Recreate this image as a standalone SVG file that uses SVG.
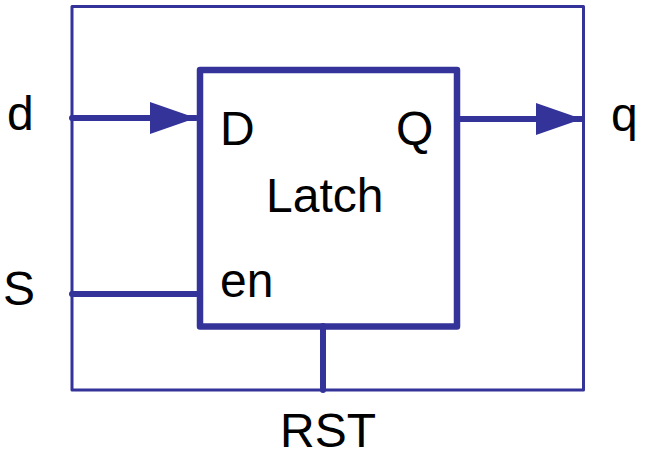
<svg xmlns="http://www.w3.org/2000/svg" width="647" height="470" viewBox="0 0 647 470">
<style>
.w{stroke:#333399;fill:none;stroke-linecap:round;stroke-linejoin:round}
.t{font-family:"Liberation Sans",Arial,sans-serif;font-size:48px;fill:#000}
</style>
<defs>
<marker id="ah" markerUnits="userSpaceOnUse" markerWidth="48" markerHeight="34" refX="46" refY="16" orient="auto">
<path d="M0,0 L46,16 L0,32 Z" fill="#333399"/>
</marker>
</defs>
<rect width="647" height="470" fill="#fff"/>
<g id="frame">
<rect class="w" x="72" y="6.5" width="511.5" height="383.5" stroke-width="3"/>
</g>
<g id="latch">
<rect class="w" x="200" y="70" width="257" height="256.5" stroke-width="6.5"/>
<text class="t" x="220" y="145">D</text>
<text class="t" x="396" y="145">Q</text>
<text class="t" x="266" y="212">Latch</text>
<text class="t" x="220" y="297">en</text>
</g>
<g id="connectors">
<line class="w" x1="72" y1="118" x2="196" y2="118" stroke-width="6" marker-end="url(#ah)"/>
<line class="w" x1="457" y1="119" x2="582" y2="119" stroke-width="6" marker-end="url(#ah)"/>
<line class="w" x1="72" y1="294" x2="200" y2="294" stroke-width="6"/>
<line class="w" x1="323" y1="326" x2="323" y2="390" stroke-width="6"/>
</g>
<g id="labels">
<text class="t" x="7" y="130">d</text>
<text class="t" x="611" y="131">q</text>
<text class="t" x="3" y="305">S</text>
<text class="t" x="280" y="447">RST</text>
</g>
</svg>
